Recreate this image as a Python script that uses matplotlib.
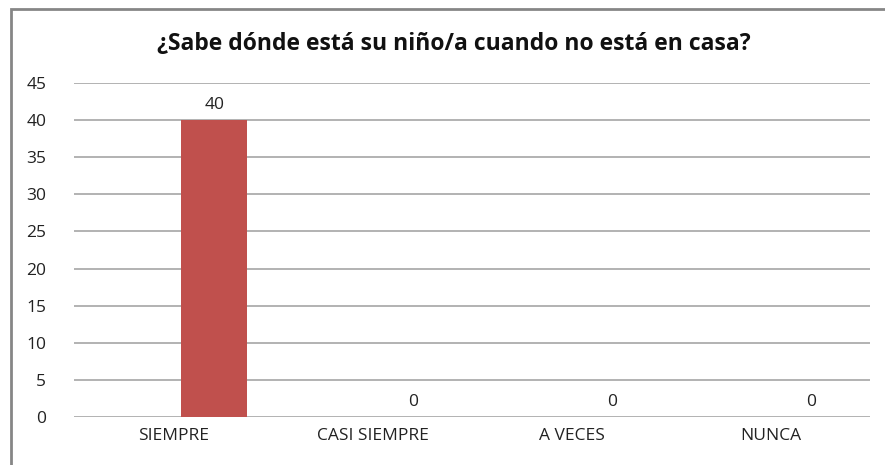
import numpy as np
import matplotlib.pyplot as plt
from matplotlib.patches import Rectangle

# survey answers
categories = ["SIEMPRE", "CASI SIEMPRE", "A VECES", "NUNCA"]
values = [40, 0, 0, 0]
y_ticks = list(range(0, 50, 5))

plt.rcParams["font.family"] = ["Open Sans", "DejaVu Sans"]

fig = plt.figure(figsize=(8.85, 4.65), dpi=100)

# grey outer border of the chart (only left and top show in the crop)
fig.patches.append(Rectangle((11 / 885, -0.1), 1.2, 1 - 9 / 465 + 0.1,
                             transform=fig.transFigure, fill=False,
                             edgecolor="#868686", linewidth=2))

ax = fig.add_axes([74 / 885, 1 - 417 / 465, (870 - 74) / 885, (417 - 83) / 465])

x = np.arange(len(categories))
bars = ax.bar(x + 0.205, values, width=0.33, color="#C0504D", zorder=3)

for xi, v in zip(x, values):
    ax.text(xi + 0.205, v + 1.0, str(v), ha="center", va="bottom",
            fontsize=12.5, color="#222222")

ax.set_xlim(-0.5, len(categories) - 0.5)
ax.set_ylim(0, 45)
ax.set_yticks(y_ticks)
ax.set_xticks(x)
ax.set_xticklabels(categories)
ax.tick_params(axis="both", length=0, labelsize=12.5, colors="#222222")
ax.tick_params(axis="y", pad=20)
ax.tick_params(axis="x", pad=8)
ax.grid(axis="y", color="#A6A6A6", linewidth=1.2, zorder=0)
for s in ax.spines.values():
    s.set_visible(False)

fig.text(454 / 885, 1 - 44 / 465, "¿Sabe dónde está su niño/a cuando no está en casa?",
         ha="center", va="center", fontsize=16.5, fontweight="bold", color="#111111")

plt.savefig("out.png", dpi=100)
